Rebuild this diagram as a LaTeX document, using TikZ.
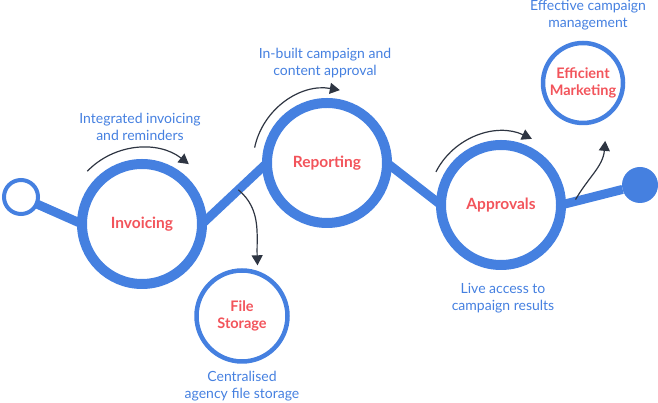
\documentclass[tikz,border=0pt]{standalone}
\usepackage{fontspec}
\setmainfont{Lato}
\usepackage{tikz}
\usetikzlibrary{arrows.meta,calc}

\definecolor{ringblue}{HTML}{4580E0}
\definecolor{labelred}{HTML}{F2545B}
\definecolor{arrowgrey}{HTML}{2E3542}

\begin{document}
\begin{tikzpicture}[
		x=1pt, y=1pt,
		every node/.style={inner sep=0pt, outer sep=0pt},
		stage/.style={circle, draw=ringblue, line width=10pt, minimum size=120pt,
			font=\fontsize{15.5}{18}\selectfont\bfseries, text=labelred, align=center},
		substage/.style={circle, draw=ringblue, line width=4.5pt,
			font=\fontsize{14.5}{17}\selectfont\bfseries, text=labelred, align=center},
		note/.style={font=\fontsize{14}{17}\selectfont, text=ringblue, align=center},
		link/.style={draw=ringblue, line width=9pt},
		flow/.style={draw=arrowgrey, line width=1.2pt, -{Triangle[length=10pt,width=11pt]}}
	]
  \useasboundingbox (0,0) rectangle (658,403);
  % stages along the track
  \node (start) [circle, draw=ringblue, line width=4pt, minimum size=34pt] at (21, 206) {};
  \node (inv) [stage] at (142, 179) {Invoicing};
  \node (rep) [stage] at (327, 240) {Reporting};
  \node (appr) [stage] at (501, 198) {Approvals};
  \node (finish) [circle, fill=ringblue, minimum size=36pt] at (640, 218) {};
  \node (file) [substage, minimum size=91pt] at (242, 87) {File\\Storage};
  \node (eff) [substage, minimum size=80pt] at (583, 320) {Efficient\\Marketing};
  % track
  \draw [link] (start) -- (inv.west);
  \draw [link] (inv.east) -- coordinate[pos=0.56] (branch_file) (rep.west);
  \draw [link] (rep.east) -- (appr.west);
  \draw [link] (appr.east) -- coordinate[pos=0.22] (branch_eff) (finish);
  % arrows
  \draw [flow] ([shift={(136:76)}]inv.center) arc[start angle=136, end angle=52, radius=76];
  \draw [flow] ([shift={(168:74)}]rep.center) arc[start angle=168, end angle=80, radius=74];
  \draw [flow] ([shift={(153:73)}]appr.center) arc[start angle=153, end angle=65, radius=73];
  \draw [flow] (branch_file) to[out=-40, in=92] ($(file.center)+(73:53)$);
  \draw [flow] ([shift={(1pt,2pt)}]branch_eff) to[out=60, in=-95] ($(eff.center)+(-69:62)$);
  % notes
  \node (inv_note) [note] at (140, 276) {Integrated invoicing\\and reminders};
  \node (rep_note) [note] at (325, 340) {In-built campaign and\\content approval};
  \node (eff_note) [note] at (588, 388) {Effective campaign\\management};
  \node (appr_note) [note] at (503, 105) {Live access to\\campaign results};
  \node (file_note) [note] at (242, 17) {Centralised\\agency file storage};
\end{tikzpicture}
\end{document}
